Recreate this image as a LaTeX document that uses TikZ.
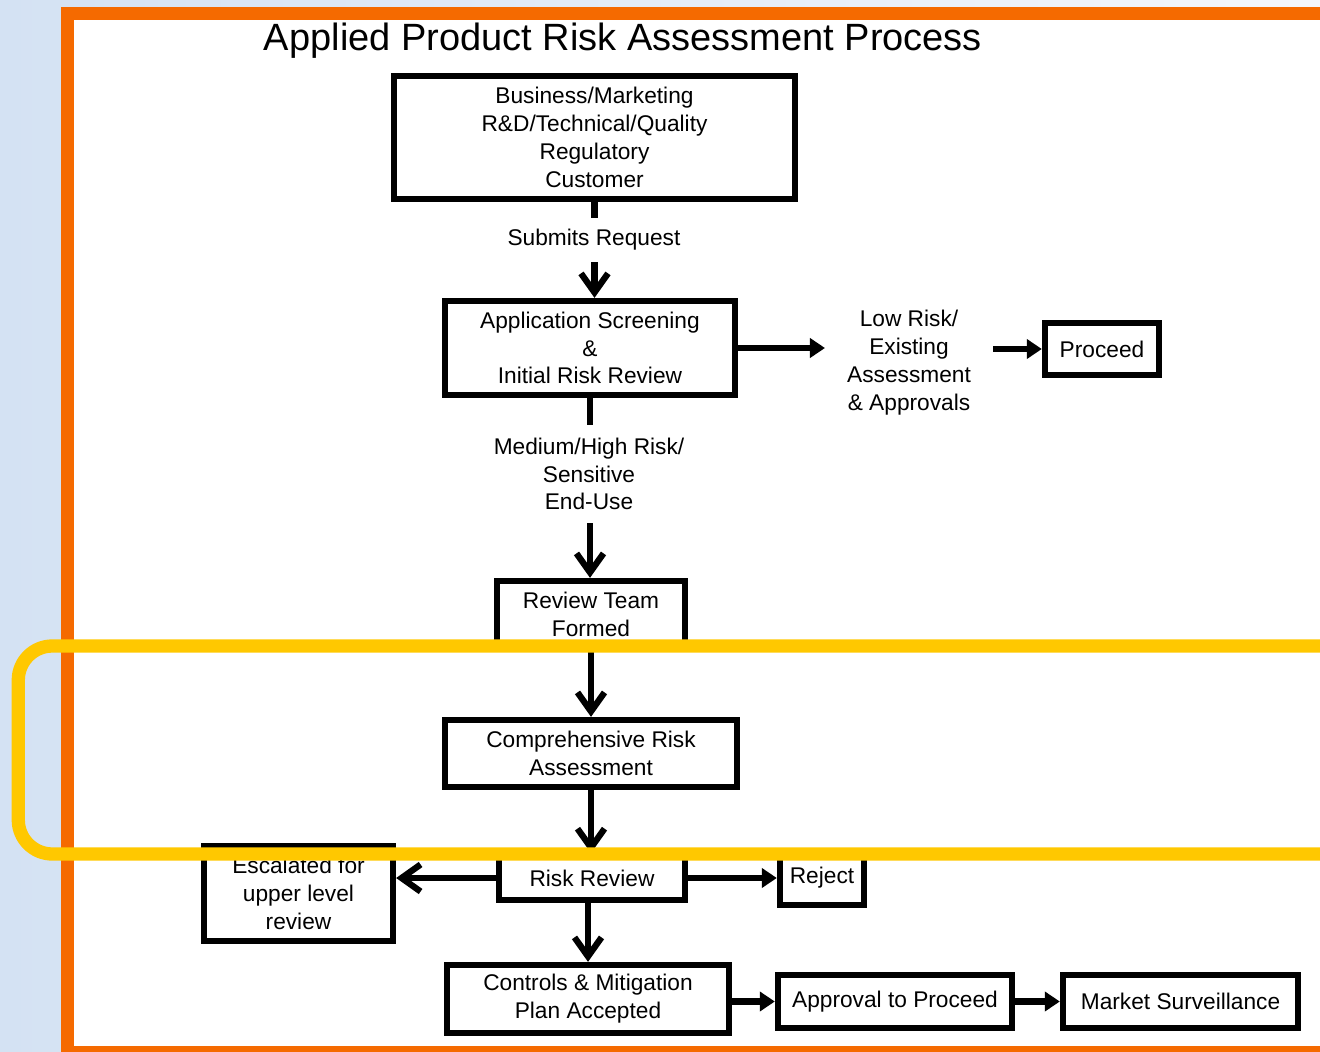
\documentclass[tikz,border=0pt]{standalone}
\usepackage{fontspec}
\setmainfont{Liberation Sans}
\usetikzlibrary{arrows.meta}
\definecolor{frameorange}{RGB}{245,106,0}
\definecolor{hiyellow}{RGB}{255,200,0}
\definecolor{bgleft}{RGB}{212,226,243}
\definecolor{bgright}{RGB}{244,247,252}
\tikzset{
  box/.style={draw=black, line width=5.8pt, fill=white, inner sep=0pt, align=center,
    font=\fontsize{22.7}{27.8}\selectfont},
  lbl/.style={inner sep=0pt, align=center, font=\fontsize{22.7}{27.8}\selectfont},
  conn/.style={line width=6.3pt, draw=black},
  vee/.style={conn, -{Straight Barb[length=19pt,width=27pt]}},
  tri/.style={conn, -{Triangle[length=15pt,width=19pt]}},
}
\begin{document}
\begin{tikzpicture}[x=1pt, y=-1pt]
\useasboundingbox (0,0) rectangle (1320,1052);
\clip (0,0) rectangle (1320,1052);
% background and frame
\shade[left color=bgleft, right color=bgright] (0,0) rectangle (1320,1052);
\fill[frameorange] (61,7) rectangle (1400,1100);
\fill[white] (74,20) rectangle (1400,1046);
% title
\node[anchor=base, inner sep=0pt, font=\fontsize{38}{40}\selectfont] (title) at (623,50) {Applied Product Risk Assessment Process};
% boxes
\node[box, minimum width=401.5pt, minimum height=123.5pt] (src) at (594.5,137.5) {Business/Marketing\\R\&D/Technical/Quality\\Regulatory\\Customer};
\node[box, minimum width=290.5pt, minimum height=94.5pt] (screen) at (590,348) {Application Screening\\\&\\Initial Risk Review};
\node[box, minimum width=114.5pt, minimum height=52.5pt] (proceed) at (1102,349) {Proceed};
\node[box, minimum width=188.5pt, minimum height=66.5pt] (team) at (591,614) {Review Team\\Formed};
\node[box, minimum width=292.5pt, minimum height=67.5pt] (cra) at (591,753.5) {Comprehensive Risk\\Assessment};
\node[box, minimum width=186.5pt, minimum height=44pt] (rr) at (592,878) {Risk Review};
\node[box, minimum width=189.5pt, minimum height=95.5pt] (esc) at (298.5,893.5) {Escalated for\\upper level\\review};
\node[box, minimum width=84.5pt, minimum height=54.5pt] (reject) at (822,878) {Reject};
\node[box, minimum width=282.5pt, minimum height=68.5pt] (ctrl) at (588,999) {Controls \& Mitigation\\Plan Accepted};
\node[box, minimum width=234.5pt, minimum height=53.5pt] (appr) at (895,1001.5) {Approval to Proceed};
\node[box, minimum width=235.5pt, minimum height=53.5pt] (market) at (1180.5,1001.5) {Market Surveillance};
% labels
\node[lbl, minimum height=44pt] (submits) at (594,240) {Submits Request};
\node[lbl, minimum height=98pt] (medhigh) at (589,474) {Medium/High Risk/\\Sensitive\\End-Use};
\node[lbl, inner xsep=22pt] (lowrisk) at (909,362.5) {Low Risk/\\Existing\\Assessment\\\& Approvals};
% connectors
\draw[conn] (src.south) -- (src.south |- submits.north);
\draw[vee] (src.south |- submits.south) -- (src.south |- screen.north);
\draw[conn] (screen.south) -- (screen.south |- medhigh.north);
\draw[vee] (screen.south |- medhigh.south) -- (screen.south |- team.north);
\draw[tri] (screen.east) -- (screen.east -| lowrisk.west);
\draw[tri] (proceed.west -| lowrisk.east) -- (proceed.west);
\draw[vee] (team.south) -- (cra.north);
\draw[vee] (cra.south) -- (cra.south |- rr.north);
\draw[vee] (rr.west) -- (rr.west -| esc.east);
\draw[tri] (rr.east) -- (rr.east -| reject.west);
\draw[vee] (ctrl.north |- rr.south) -- (ctrl.north);
\draw[tri] (ctrl.east |- appr.west) -- (appr.west);
\draw[tri] (appr.east) -- (market.west);
% highlight band
\draw[hiyellow, line width=13.3pt, rounded corners=34pt] (1400,646) -- (18.3,646) -- (18.3,854) -- (1400,854);
\end{tikzpicture}
\end{document}
